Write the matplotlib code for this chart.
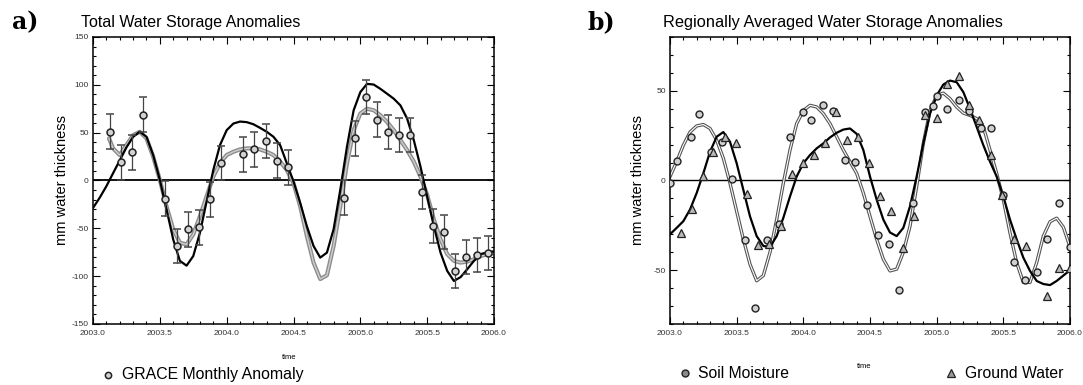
import matplotlib
matplotlib.use("Agg")
import matplotlib.pyplot as plt
from matplotlib.lines import Line2D
from matplotlib.ticker import MultipleLocator, FormatStrFormatter

plt.rcParams['font.family'] = ['Liberation Sans', 'DejaVu Sans']
plt.rcParams['axes.unicode_minus'] = False

# ---- panel a: GRACE monthly anomalies (mm) ----
grace_t = [2003.125, 2003.208, 2003.292, 2003.375, 2003.542, 2003.625, 2003.708, 2003.792,
           2003.875, 2003.958, 2004.125, 2004.208, 2004.292, 2004.375, 2004.458, 2004.875,
           2004.958, 2005.042, 2005.125, 2005.208, 2005.292, 2005.375, 2005.458, 2005.542,
           2005.625, 2005.708, 2005.792, 2005.875, 2005.958]
grace_v = [51, 19, 29.4, 68.9, -19, -68.5, -51.2, -49, -19.7, 18, 27.3, 32.5, 41.5, 20.8,
           13.8, -18, 44, 87.2, 63.7, 50.9, 47.4, 47.8, -12, -47.4, -54, -94.8, -80, -77.9, -76]
grace_err = 18

# curve samples (every 0.05 yr)
t_grid = [2003.00, 2003.05, 2003.10, 2003.15, 2003.20, 2003.25, 2003.30, 2003.35, 2003.40,
          2003.45, 2003.50, 2003.55, 2003.60, 2003.65, 2003.70, 2003.75, 2003.80, 2003.85,
          2003.90, 2003.95, 2004.00, 2004.05, 2004.10, 2004.15, 2004.20, 2004.25, 2004.30,
          2004.35, 2004.40, 2004.45, 2004.50, 2004.55, 2004.60, 2004.65, 2004.70, 2004.75,
          2004.80, 2004.85, 2004.90, 2004.95, 2005.00, 2005.05, 2005.10, 2005.15, 2005.20,
          2005.25, 2005.30, 2005.35, 2005.40, 2005.45, 2005.50, 2005.55, 2005.60, 2005.65,
          2005.70, 2005.75, 2005.80, 2005.85, 2005.90, 2005.95, 2006.00]

model_a = [-28.7, -18, -6, 7.6, 21, 34.6, 45.7, 51, 45.7, 26.6, 0.7, -30, -61.6, -84, -89,
           -79, -54.7, -21.8, 11, 37, 52.6, 59.5, 61.6, 61, 58.8, 55, 50.9, 45.7, 37, 18, -1,
           -23.5, -47.8, -68.5, -80.6, -75.4, -51, -9.7, 35.3, 73.4, 92.4, 101, 100.3, 95.8,
           90.7, 85.5, 78.5, 64.7, 42.2, 14.5, -16.6, -47.8, -75.4, -94.5, -105, -101, -92.7,
           -84, -77, -75, -74]

fit_a_t = [2003.12] + t_grid[3:]
fit_a = [44, 33.6, 26.6, 37, 47.4, 50.9, 44, 25, 0.7, -27, -51, -65, -66.8, -56.4, -37.4,
         -16.6, 4, 18, 26.6, 30, 32.5, 33.6, 33.6, 32.5, 30, 26.6, 19.7, 11, -2.8, -27, -58,
         -85.8, -103, -99, -68.5, -27, 18, 52.6, 70, 75, 73.4, 68.2, 61.2, 52.6, 42.2, 31.8,
         19.7, 4, -15, -40.8, -61.6, -77, -84, -85.8, -84.8, -82.4, -79, -77, -76]

# ---- panel b: regionally averaged components ----
soil_t = [2003.0, 2003.05, 2003.158, 2003.215, 2003.31, 2003.39, 2003.465, 2003.56, 2003.64,
          2003.725, 2003.82, 2003.90, 2004.0, 2004.06, 2004.15, 2004.22, 2004.31, 2004.39,
          2004.48, 2004.56, 2004.64, 2004.72, 2004.825, 2004.915, 2004.97, 2005.0, 2005.08,
          2005.17, 2005.245, 2005.33, 2005.41, 2005.50, 2005.58, 2005.665, 2005.75, 2005.83,
          2005.92, 2006.0]
soil_v = [-1.5, 10.7, 24.4, 36.9, 16, 21.6, 1.1, -33, -71.2, -33.2, -24.5, 24.2, 38, 34, 41.9,
          38.6, 11.6, 10.5, -13.8, -30.6, -35.6, -60.9, -12.5, 38.2, 41.3, 47.2, 39.9, 45,
          38.7, 29, 29, -7.9, -45.2, -55.4, -51, -32.5, -12.6, -37]

gw_t = [2003.08, 2003.168, 2003.245, 2003.325, 2003.41, 2003.4975, 2003.575, 2003.66,
        2003.745, 2003.83, 2003.915, 2004.0, 2004.08, 2004.1625, 2004.2475, 2004.33, 2004.41,
        2004.49, 2004.575, 2004.66, 2004.75, 2004.83, 2004.91, 2005.0, 2005.08, 2005.1675,
        2005.245, 2005.32, 2005.41, 2005.49, 2005.58, 2005.67, 2005.83, 2005.92, 2006.0]
gw_v = [-29.5, -15.7, 2.6, 15.7, 24, 20.7, -7.4, -36.2, -35.6, -25.1, 3.7, 10, 14.2, 21, 38.2,
        22.5, 24.4, 9.6, -8.9, -17.2, -37.5, -19.9, 36.3, 34.9, 53.9, 58.3, 41.9, 33.6, 14.2,
        -8.3, -32.8, -36.5, -64.2, -49, -49]

gw_fit = [-30, -26.4, -22.7, -16.2, -7, 4, 16, 24.4, 27, 21.6, 9.6, -5.2, -20, -31, -36.5,
          -37, -31, -20.8, -8.9, 2.2, 9.6, 14.2, 17.9, 20.7, 24, 26.6, 28.4, 29, 26, 17, 2.2,
          -10.7, -21.8, -29, -31, -26.4, -14.4, 2.2, 20.7, 37.3, 47.4, 53.5, 55.7, 54.8, 49.3,
          40, 29.9, 19.7, 10.5, 2.2, -8.9, -21.8, -32.8, -43, -50.4, -56, -57.7, -58.3, -56,
          -53, -50]
soil_fit = [2.2, 10.5, 19.7, 27, 30.4, 31.2, 29, 22.5, 12.4, -1.5, -17.2, -32.8, -46.7, -55.9,
            -53, -40, -21.8, -1.5, 17, 31.7, 39, 41.9, 41, 37.3, 31.7, 24.4, 17, 10.5, 4, -7,
            -20, -32.8, -43.9, -50.4, -49.4, -40, -25.5, -3.3, 20.7, 39, 47.4, 48.7, 45.6, 41,
            37.6, 36.3, 34.5, 29.9, 17, 4, -10.7, -29.2, -45.8, -56.8, -56.8, -45.8, -31, -23,
            -21, -26, -37]

W, H = 1083, 385
fig = plt.figure(figsize=(W / 100, H / 100), dpi=100)
ax_a = fig.add_axes([93 / W, 61 / H, 401 / W, 287 / H])
ax_b = fig.add_axes([670 / W, 61 / H, 400 / W, 287 / H])


def style_axes(ax, ylim, ymajor, yminor, zero_lw):
    ax.set_xlim(2003.0, 2006.0)
    ax.set_ylim(*ylim)
    ax.xaxis.set_major_locator(MultipleLocator(0.5))
    ax.xaxis.set_minor_locator(MultipleLocator(0.1))
    ax.xaxis.set_major_formatter(FormatStrFormatter('%.1f'))
    ax.yaxis.set_major_locator(MultipleLocator(ymajor))
    ax.yaxis.set_minor_locator(MultipleLocator(yminor))
    ax.tick_params(which='both', direction='in', top=True, right=True,
                   labelsize=6, labelcolor='#333333', width=0.8)
    ax.tick_params(axis='x', pad=4)
    ax.tick_params(axis='y', pad=3)
    ax.tick_params(which='major', length=5)
    ax.tick_params(which='minor', length=2.5)
    for s in ax.spines.values():
        s.set_linewidth(1.1)
    ax.axhline(0, color='black', lw=zero_lw, zorder=1)
    ax.set_ylabel('mm water thickness', fontsize=10.5)
    ax.set_xlabel('time', fontsize=5.5)


style_axes(ax_a, (-150, 150), 50, 10, 1.3)
style_axes(ax_b, (-80, 80), 50, 10, 1.0)
ax_a.yaxis.set_label_coords(-0.06, 0.5)
ax_b.yaxis.set_label_coords(-0.062, 0.5)
ax_a.xaxis.set_label_coords(0.49, -0.105)
ax_b.xaxis.set_label_coords(0.485, -0.135)

# panel a
ax_a.plot(fit_a_t, fit_a, color='#8c8c8c', lw=3.0, zorder=2, solid_capstyle='round')
ax_a.plot(fit_a_t, fit_a, color='#cfcfcf', lw=1.0, zorder=2)
ax_a.plot(t_grid, model_a, color='black', lw=1.6, zorder=3)
ax_a.errorbar(grace_t, grace_v, yerr=grace_err, fmt='o', ms=5, mfc='#d2d2d2', mec='#222222',
              mew=1.1, ecolor='#444444', elinewidth=0.9, capsize=2.6, capthick=0.9, zorder=4)

# panel b
ax_b.plot(t_grid, soil_fit, color='#555555', lw=2.4, zorder=2)
ax_b.plot(t_grid, soil_fit, color='white', lw=0.8, zorder=2)
ax_b.plot(t_grid, gw_fit, color='black', lw=1.6, zorder=3)
ax_b.plot(soil_t, soil_v, 'o', ms=5, mfc='#d0d0d0', mec='#222222', mew=1.0, zorder=4)
ax_b.plot(gw_t, gw_v, '^', ms=5.2, mfc='#b8b8b8', mec='#222222', mew=0.9, zorder=4)

# titles and panel letters
fig.text(81 / W, 1 - 23 / H, 'Total Water Storage Anomalies', fontsize=11.5, va='center')
fig.text(663 / W, 1 - 23 / H, 'Regionally Averaged Water Storage Anomalies', fontsize=11.8,
         va='center')
fig.text(12 / W, 1 - 22 / H, 'a)', fontsize=17, fontweight='bold',
         family='DejaVu Serif', va='center')
fig.text(588 / W, 1 - 22 / H, 'b)', fontsize=17, fontweight='bold',
         family='DejaVu Serif', va='center')

# legends placed under each panel
fig.add_artist(Line2D([108 / W], [1 - 375 / H], marker='o', ms=4.5, mfc='#d2d2d2',
                      mec='#222222', mew=1.1, transform=fig.transFigure))
fig.text(122 / W, 1 - 375 / H, 'GRACE Monthly Anomaly', fontsize=11.4, va='center')
fig.add_artist(Line2D([685 / W], [1 - 373 / H], marker='o', ms=5, mfc='#8a8a8a',
                      mec='#222222', mew=1.0, transform=fig.transFigure))
fig.text(698 / W, 1 - 373 / H, 'Soil Moisture', fontsize=11.3, va='center')
fig.add_artist(Line2D([951 / W], [1 - 373 / H], marker='^', ms=5.5, mfc='#9a9a9a',
                      mec='#222222', mew=0.9, transform=fig.transFigure))
fig.text(965 / W, 1 - 373 / H, 'Ground Water', fontsize=11.3, va='center')

fig.savefig('out.png', dpi=100)
